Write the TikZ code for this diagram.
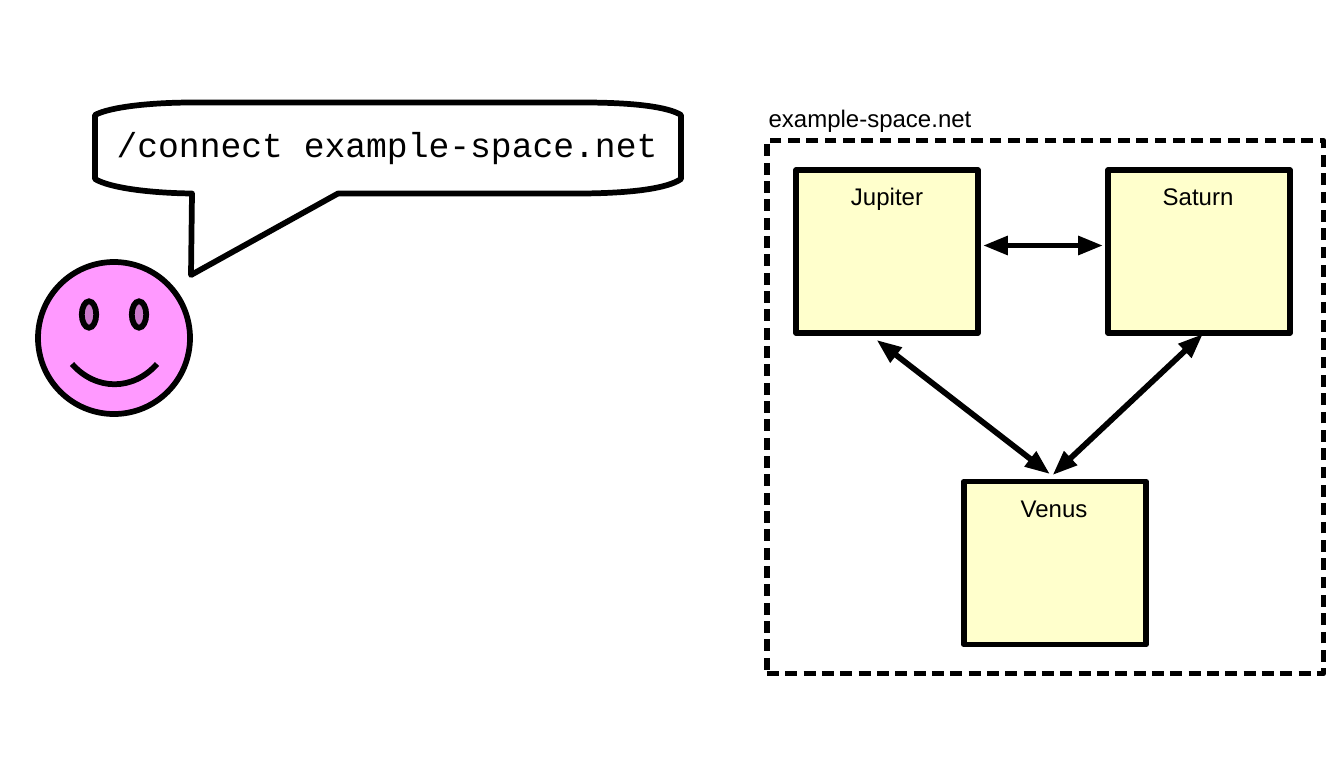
\documentclass[tikz,border=0pt]{standalone}
\usepackage{fontspec}
\setmainfont{Liberation Sans}
\setmonofont{Liberation Mono}
\usetikzlibrary{arrows.meta,shapes.geometric}
\definecolor{pinkface}{HTML}{FF99FF}
\definecolor{pinkeye}{HTML}{CC7ACC}
\definecolor{planetfill}{HTML}{FFFFCC}
\tikzset{
  heavy/.style={line width=4.3pt,draw=black},
  planet/.style={heavy,fill=planetfill,rectangle,minimum width=136.5pt,minimum height=122.25pt,inner sep=0pt,line join=round},
  planetname/.style={font=\fontsize{18}{20}\selectfont,anchor=base,inner sep=0pt},
  link/.style={line width=4.3pt,{Triangle[length=18.75pt,width=13.5pt]}-{Triangle[length=18.75pt,width=13.5pt]}},
  eye/.style={heavy,fill=pinkeye,ellipse,minimum width=10.8pt,minimum height=19.8pt,inner sep=0pt},
}
\begin{document}
\begin{tikzpicture}[x=0.75pt,y=-0.75pt]
\useasboundingbox (0,0) rectangle (1343,757);
% speech bubble
\draw[heavy,fill=white,line join=round]
  (193,102.5) -- (583,102.5)
  .. controls (635,102.5) and (668,107) .. (681,115)
  -- (681,179)
  .. controls (668,188) and (635,193) .. (583,193.5)
  -- (338,193.5) -- (191,275) -- (192,193.5)
  .. controls (150,193) and (110,188) .. (95,179)
  -- (95,115)
  .. controls (110,107) and (150,102.5) .. (193,102.5) -- cycle;
\node[font=\ttfamily\fontsize{26}{28}\selectfont,anchor=base,inner sep=0pt] (cmd) at (387,157) {/connect example-space.net};
% face
\node[heavy,fill=pinkface,circle,minimum size=114pt,inner sep=0pt] (face) at (114,338) {};
\node[eye] (eyeL) at (89,314.5) {};
\node[eye] (eyeR) at (139,314.5) {};
\coordinate (smileL) at (72,364);
\coordinate (smileR) at (157,364);
\draw[line width=4.3pt] (smileL) .. controls (96,391) and (133,391) .. (smileR);
% network
\node[heavy,dash pattern=on 8.9pt off 4.85pt,line join=round,rectangle,minimum width=417.4pt,minimum height=399.75pt,inner sep=0pt] (space) at (1045.25,407) {};
\node[font=\fontsize{18}{20}\selectfont,anchor=base,inner sep=0pt] (spacename) at (870,127) {example-space.net};
\node[planet] (jupiter) at (887,251.5) {};
\node[planet] (saturn) at (1199,251.5) {};
\node[planet] (venus) at (1055,563) {};
\node[planetname] (jupitername) at (887,205) {Jupiter};
\node[planetname] (saturnname) at (1198,205) {Saturn};
\node[planetname] (venusname) at (1054,517) {Venus};
\draw[link] ([shift={(2,-6)}]jupiter.east) -- ([shift={(-2,-6)}]saturn.west);
\draw[link] ([shift={(-10.5,4)}]jupiter.south) -- ([shift={(-5,-4.5)}]venus.north);
\draw[link] ([shift={(4,-2)}]saturn.south) -- ([shift={(-2.5,-3.5)}]venus.north);
\end{tikzpicture}
\end{document}
